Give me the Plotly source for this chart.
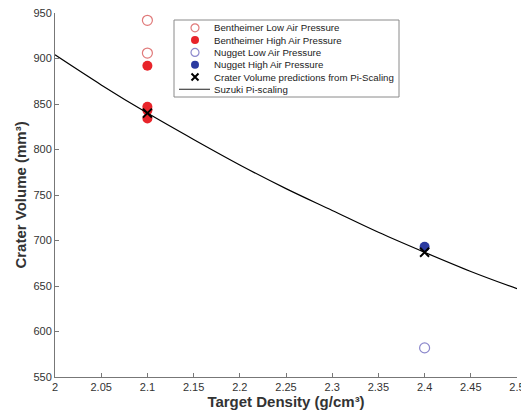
import plotly.graph_objects as go

# Data
bent_low_x = [2.1, 2.1]
bent_low_y = [942, 906]
bent_high_x = [2.1, 2.1, 2.1, 2.1]
bent_high_y = [892, 847, 843, 834]
nug_low_x = [2.4]
nug_low_y = [582]
nug_high_x = [2.4]
nug_high_y = [693]
pred_x = [2.1, 2.4]
pred_y = [840, 687]
suzuki_x = [2.0, 2.05, 2.1, 2.15, 2.2, 2.25, 2.3, 2.35, 2.4, 2.45, 2.5]
suzuki_y = [904, 871, 840, 811, 783, 757, 733, 709, 687, 666, 647]

x_ticks = [2, 2.05, 2.1, 2.15, 2.2, 2.25, 2.3, 2.35, 2.4, 2.45, 2.5]
x_ticklabels = ["2", "2.05", "2.1", "2.15", "2.2", "2.25", "2.3", "2.35", "2.4", "2.45", "2.5"]
y_ticks = [550, 600, 650, 700, 750, 800, 850, 900, 950]

legend_names = ["Bentheimer Low Air Pressure", "Bentheimer High Air Pressure",
                "Nugget Low Air Pressure", "Nugget High Air Pressure",
                "Crater Volume predictions from Pi-Scaling", "Suzuki Pi-scaling"]

FONT = "Liberation Sans, Arial, sans-serif"

styles = [
    dict(symbol="circle-open", size=10, color="#e07a7a", line=dict(width=1.2)),
    dict(symbol="circle", size=10, color="#e8242a"),
    dict(symbol="circle-open", size=10, color="#8c88cc", line=dict(width=1.2)),
    dict(symbol="circle", size=10, color="#2b3aa0"),
    dict(symbol="x-thin-open", size=9, color="black", line=dict(width=2, color="black")),
]
series = [(bent_low_x, bent_low_y), (bent_high_x, bent_high_y), (nug_low_x, nug_low_y),
          (nug_high_x, nug_high_y), (pred_x, pred_y)]

fig = go.Figure()
for (xs, ys), st, nm in zip(series, styles, legend_names[:5]):
    fig.add_trace(go.Scatter(x=xs, y=ys, mode="markers", name=nm, marker=st,
                             showlegend=False))
fig.add_trace(go.Scatter(x=suzuki_x, y=suzuki_y, mode="lines", name=legend_names[5],
                         line=dict(color="black", width=1.2, shape="spline"), showlegend=False))

# ---- custom legend, laid out on an overlay axis in pixel units of the plot area ----
PX_L, PX_R, PX_T, PX_B = 55, 517, 13, 377
box = dict(x0=174, x1=399, y0=20, y1=97)
row_y0, row_dy = 27.8, 12.3
key_x, text_x = 195, 212
fig.add_shape(type="rect", xref="x2", yref="y2", x0=box["x0"], x1=box["x1"],
              y0=box["y0"], y1=box["y1"], line=dict(color="#8a8a8a", width=1),
              fillcolor="white", layer="below")
for i, (st, nm) in enumerate(zip(styles, legend_names[:5])):
    st2 = dict(st)
    st2["size"] = st["size"] - 2
    fig.add_trace(go.Scatter(x=[key_x], y=[row_y0 + i * row_dy], xaxis="x2", yaxis="y2",
                             mode="markers", marker=st2, showlegend=False, hoverinfo="skip"))
ly = row_y0 + 5 * row_dy
fig.add_trace(go.Scatter(x=[179, 210], y=[ly, ly], xaxis="x2", yaxis="y2", mode="lines",
                         line=dict(color="#444444", width=1.2), showlegend=False, hoverinfo="skip"))
for i, nm in enumerate(legend_names):
    fig.add_annotation(x=text_x, y=row_y0 + i * row_dy, xref="x2", yref="y2", text=nm,
                       showarrow=False, xanchor="left", yanchor="middle",
                       font=dict(family=FONT, size=9.7, color="#222222"))

# page body adds an 8px offset, so the figure is 8px smaller than the window
W, H = 521, 406
fig.update_layout(
    width=W, height=H,
    margin=dict(l=PX_L - 8, r=529 - PX_R, t=PX_T - 8, b=414 - PX_B),
    paper_bgcolor="white", plot_bgcolor="white",
    font=dict(family=FONT, size=11, color="#333333"),
    showlegend=False,
    xaxis2=dict(overlaying="x", range=[PX_L, PX_R], visible=False, fixedrange=True),
    yaxis2=dict(overlaying="y", range=[PX_B, PX_T], visible=False, fixedrange=True),
)
fig.layout.xaxis.update(range=[2, 2.5], tickvals=x_ticks, ticktext=x_ticklabels, automargin=False,
                        showgrid=False, zeroline=False, showline=True, linecolor="#777777",
                        linewidth=1, ticks="inside", ticklen=4, tickcolor="#777777",
                        ticklabeloverflow="allow",
                        tickfont=dict(size=11, color="#333333"),
                        title=dict(text="<b>Target Density (g/cm³)</b>",
                                   font=dict(size=15, color="#333333"), standoff=3))
fig.layout.yaxis.update(range=[550, 950], tickvals=y_ticks, automargin=False,
                        showgrid=False, zeroline=False, showline=True, linecolor="#777777",
                        linewidth=1, ticks="inside", ticklen=4, tickcolor="#777777",
                        ticklabeloverflow="allow",
                        tickfont=dict(size=11, color="#333333"),
                        title=dict(text="<b>Crater Volume (mm³)</b>",
                                   font=dict(size=15, color="#333333"), standoff=3))

fig.write_html("out.html")
